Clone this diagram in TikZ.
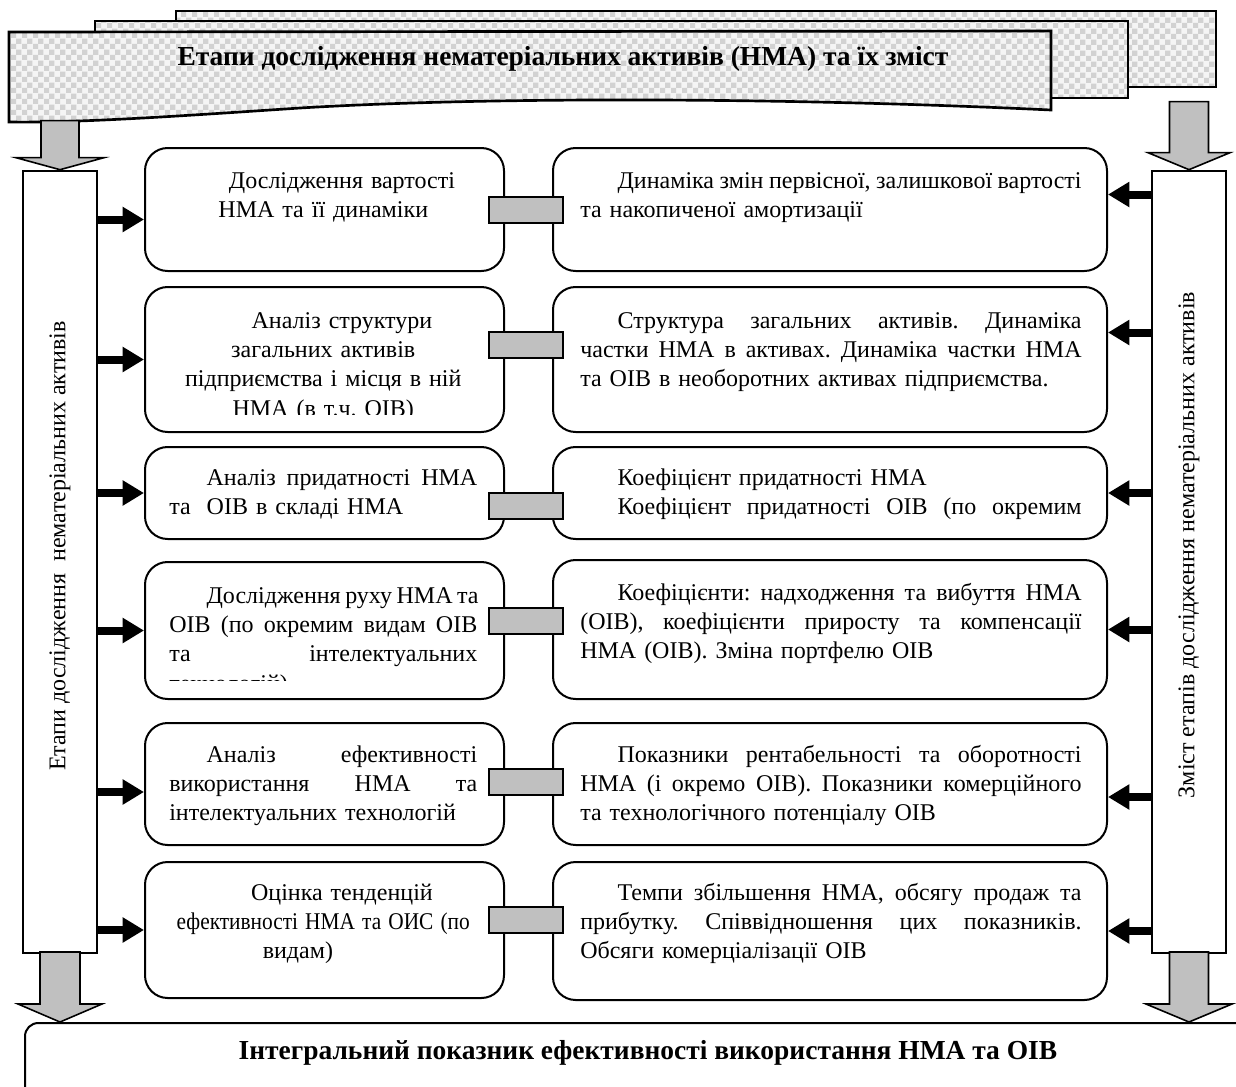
\documentclass[tikz,border=0pt]{standalone}
\usepackage{fontspec}
\setmainfont{Liberation Serif}
\usetikzlibrary{arrows.meta,fit,calc,patterns}

\definecolor{sheetgray}{RGB}{210,210,210}
\definecolor{sheetlight}{RGB}{245,245,245}
\definecolor{arrowgray}{RGB}{192,192,192}

\pgfdeclarepatternformonly{checks}{\pgfqpoint{0pt}{0pt}}{\pgfqpoint{8pt}{8pt}}{\pgfqpoint{8pt}{8pt}}{%
  \pgfpathrectangle{\pgfqpoint{0pt}{0pt}}{\pgfqpoint{4pt}{4pt}}%
  \pgfpathrectangle{\pgfqpoint{4pt}{4pt}}{\pgfqpoint{4pt}{4pt}}%
  \pgfusepath{fill}}

\newcommand{\ind}{\hspace*{28pt}}
% justified line of given width
\newcommand{\jl}[2][376pt]{\leavevmode\hbox to #1{\spaceskip=0.25em plus 3em minus 0.06em\relax #2}}

\begin{document}
\begin{tikzpicture}[x=0.75pt,y=0.75pt,yscale=-1,xscale=1,
    sheet/.style={draw, line width=2pt, pattern=checks, pattern color=sheetgray, preaction={fill=sheetlight}},
    stagebox/.style={draw, line width=1.5pt, rounded corners=17pt, inner sep=0pt},
    sidebar/.style={draw, line width=2pt, fill=white, inner sep=0pt},
    linkbox/.style={draw, line width=1.5pt, fill=arrowgray, minimum width=55.5pt, minimum height=19.5pt, inner sep=0pt},
    pointer/.style={line width=6pt, -{Triangle[width=18pt,length=16pt]}},
    bigarrow/.style={draw, line width=1.2pt, fill=arrowgray, line join=miter},
    bodyfont/.style={font=\fontsize{18pt}{22pt}\selectfont\frenchspacing},
    ltext/.style={bodyfont, anchor=base west, inner sep=0pt, text width=231pt},
    rtext/.style={bodyfont, anchor=base west, inner sep=0pt, text width=376pt, align=left},
    headfont/.style={font=\bfseries\fontsize{20.6pt}{24pt}\selectfont}]
        \useasboundingbox (0,0) rectangle (1236,1086);

        %Shape: stacked sheets
        \draw[sheet] (176,11) rectangle (1216,87) ;
        \draw[sheet] (95,21) rectangle (1128,98) ;
        \draw[sheet] (9,32) -- (1051,31) -- (1051,110) .. controls (800,98) and (500,96) .. (300,108) .. controls (180,116) and (80,123) .. (9,122) -- cycle ;
        % Text Node
        \node[headfont] (title) at (563,59) {Етапи дослідження нематеріальних активів (НМА) та їх зміст};

        %Side bars
        \node[sidebar, fit={(23,171) (97,953)}] (lbar) {};
        \node[sidebar, fit={(1152,171) (1226,953)}] (rbar) {};
        \node[bodyfont, rotate=90] (ltitle) at (60,546) {Етапи дослідження\ \ нематеріальних активів};
        \node[bodyfont, rotate=90] (rtitle) at (1189,545) {Зміст етапів дослідження нематеріальних активів};

        %Bottom box
        \node[draw, line width=1.5pt, rounded corners=10pt, inner sep=0pt, fit={(25,1023) (1250,1100)}] (out) {};
        \node[headfont] (outt) at (648,1053) {Інтегральний показник ефективності використання НМА та ОІВ};

        %Block arrows
        \draw[bigarrow] (lbar.north) -- ++(-44,-12) -- ++(25,0) -- ++(0,-37) -- ++(38,0) -- ++(0,37) -- ++(25,0) -- cycle ;
        \draw[bigarrow] (rbar.north) -- ++(-41,-17) -- ++(21.5,0) -- ++(0,-51) -- ++(39,0) -- ++(0,51) -- ++(21.5,0) -- cycle ;
        \draw[bigarrow] (lbar.south |- out.north) -- ++(-42,-18) -- ++(22,0) -- ++(0,-52) -- ++(40,0) -- ++(0,52) -- ++(22,0) -- cycle ;
        \draw[bigarrow] (rbar.south |- out.north) -- ++(-43,-18) -- ++(23.5,0) -- ++(0,-52) -- ++(39,0) -- ++(0,52) -- ++(23.5,0) -- cycle ;

        %Stage boxes
        \node[stagebox, fit={(145,148) (504,271)}] (s1) {};
        \node[stagebox, fit={(145,287) (504,432)}] (s2) {};
        \node[stagebox, fit={(145,447) (504,539)}] (s3) {};
        \node[stagebox, fit={(145,562) (504,699)}] (s4) {};
        \node[stagebox, fit={(145,723) (504,845)}] (s5) {};
        \node[stagebox, fit={(145,862) (504,998)}] (s6) {};
        %Content boxes
        \node[stagebox, fit={(553,148) (1107,271)}] (c1) {};
        \node[stagebox, fit={(553,287) (1107,432)}] (c2) {};
        \node[stagebox, fit={(553,447) (1107,539)}] (c3) {};
        \node[stagebox, fit={(553,560) (1107,699)}] (c4) {};
        \node[stagebox, fit={(553,723) (1107,845)}] (c5) {};
        \node[stagebox, fit={(553,862) (1107,1000)}] (c6) {};

        %Links
        \node[linkbox] (k1) at (526,210) {};
        \node[linkbox] (k2) at (526,345) {};
        \node[linkbox] (k3) at (526,506) {};
        \node[linkbox] (k4) at (526,621) {};
        \node[linkbox] (k5) at (526,782) {};
        \node[linkbox] (k6) at (526,920) {};

        %Straight Lines
        \coordinate (a1) at ($(s1.west)+(0,10)$);
        \coordinate (a5) at ($(s5.west)+(0,8)$);
        \draw[pointer] (lbar.east |- a1) -- (a1) ;
        \draw[pointer] (lbar.east |- s2.west) -- (s2.west) ;
        \draw[pointer] (lbar.east |- s3.west) -- (s3.west) ;
        \draw[pointer] (lbar.east |- s4.west) -- (s4.west) ;
        \draw[pointer] (lbar.east |- a5) -- (a5) ;
        \draw[pointer] (lbar.east |- s6.west) -- (s6.west) ;
        \coordinate (b1) at ($(c1.east)+(0,-15)$);
        \coordinate (b2) at ($(c2.east)+(0,-27)$);
        \coordinate (b5) at ($(c5.east)+(0,13)$);
        \draw[pointer] (rbar.west |- b1) -- (b1) ;
        \draw[pointer] (rbar.west |- b2) -- (b2) ;
        \draw[pointer] (rbar.west |- c3.east) -- (c3.east) ;
        \draw[pointer] (rbar.west |- c4.east) -- (c4.east) ;
        \draw[pointer] (rbar.west |- b5) -- (b5) ;
        \draw[pointer] (rbar.west |- c6.east) -- (c6.east) ;

        % Text Node
        \node[ltext, align=center] (s1t) at (169,188) {\ind Дослідження вартості\\НМА та її динаміки};
        \begin{scope}
        \clip (145,287) rectangle (504,414);
        \node[ltext, align=center] (s2t) at (169,328) {\ind Аналіз структури\\загальних активів\\підприємства і місця в ній\\НМА (в т.ч. ОІВ)};
        \end{scope}
        \node[ltext, align=left] (s3t) at (169,485) {\jl[231pt]{\ind Аналіз придатності НМА}\\та\ \ ОІВ в складі НМА};
        \begin{scope}
        \clip (145,562) rectangle (504,680);
        \node[ltext, align=left] (s4t) at (169,603) {\jl[231pt]{\ind Дослідження руху НМА та}\\\jl[231pt]{ОІВ (по окремим видам ОІВ}\\\jl[231pt]{та інтелектуальних}\\технологій)};
        \end{scope}
        \node[ltext, align=left] (s5t) at (169,762) {\jl[231pt]{\ind Аналіз ефективності}\\\jl[231pt]{використання НМА та}\\інтелектуальних технологій};
        \node[ltext, align=center] (s6t) at (169,900) {\ind Оцінка тенденцій\\\scalebox{0.89}[1]{ефективності НМА та ОИС (по}\\видам)\hspace*{38pt}\mbox{}};

        % Text Node
        \node[rtext] (c1t) at (580,188) {\jl{\ind Динаміка змін первісної, залишкової вартості}\\та накопиченої амортизації};
        \node[rtext] (c2t) at (580,328) {\jl{\ind Структура загальних активів. Динаміка}\\\jl{частки НМА в активах. Динаміка частки НМА}\\та ОІВ в необоротних активах підприємства.};
        \node[rtext] (c3t) at (580,485) {\ind Коефіцієнт придатності НМА\\\jl{\ind Коефіцієнт придатності ОІВ (по окремим}};
        \node[rtext] (c4t) at (580,600) {\jl{\ind Коефіцієнти: надходження та вибуття НМА}\\\jl{(ОІВ), коефіцієнти приросту та компенсації}\\НМА (ОІВ). Зміна портфелю ОІВ};
        \node[rtext] (c5t) at (580,762) {\jl{\ind Показники рентабельності та оборотності}\\\jl{НМА (і окремо ОІВ). Показники комерційного}\\та технологічного потенціалу ОІВ};
        \node[rtext] (c6t) at (580,900) {\jl{\ind Темпи збільшення НМА, обсягу продаж та}\\\jl{прибутку. Співвідношення цих показників.}\\Обсяги комерціалізації ОІВ};
\end{tikzpicture}
\end{document}
